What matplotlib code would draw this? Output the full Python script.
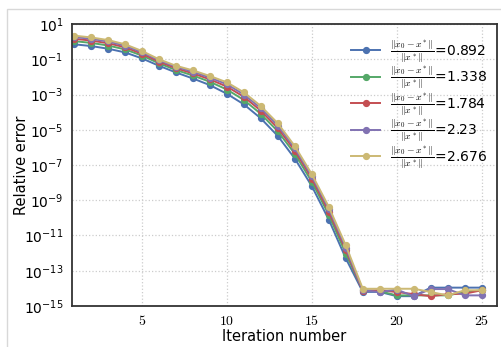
import matplotlib

matplotlib.use("Agg")
import matplotlib.pyplot as plt
from matplotlib.patches import Rectangle

# iteration numbers and relative errors
iterations = list(range(1, 26))

err_0892 = [0.708, 0.562, 0.398, 0.245, 0.112, 0.0427, 0.0178, 8.1e-3, 3.4e-3, 1.1e-3,
            2.75e-4, 4.4e-5, 4.4e-6, 2.3e-7, 6.3e-9, 7.9e-11, 5.0e-13, 6.3e-15, 6.3e-15,
            3.6e-15, 3.6e-15, 1.1e-14, 1.1e-14, 1.1e-14, 1.1e-14]
err_1338 = [1.07, 0.851, 0.603, 0.363, 0.162, 0.0589, 0.0245, 0.0120, 5.25e-3, 1.91e-3,
            4.9e-4, 7.9e-5, 8.1e-6, 4.3e-7, 1.12e-8, 1.48e-10, 9.3e-13, 7.9e-15, 6.8e-15,
            4.0e-15, 4.0e-15, 4.0e-15, 4.0e-15, 6.2e-15, 7.8e-15]
err_1784 = [1.45, 1.15, 0.813, 0.479, 0.204, 0.0724, 0.0309, 0.0158, 7.2e-3, 2.8e-3,
            7.4e-4, 1.2e-4, 1.23e-5, 6.5e-7, 1.7e-8, 2.2e-10, 1.48e-12, 7.1e-15, 7.8e-15,
            6.2e-15, 4.7e-15, 3.6e-15, 4.7e-15, 5.0e-15, 7.8e-15]
err_2230 = [1.82, 1.45, 1.02, 0.589, 0.251, 0.0871, 0.0372, 0.0195, 9.1e-3, 3.8e-3,
            1.0e-3, 1.66e-4, 1.74e-5, 8.9e-7, 2.3e-8, 3.2e-10, 2.0e-12, 7.8e-15, 6.2e-15,
            8.5e-15, 3.6e-15, 9.1e-15, 9.1e-15, 4.0e-15, 4.0e-15]
err_2676 = [2.19, 1.74, 1.23, 0.708, 0.295, 0.1, 0.0427, 0.0234, 0.0112, 4.9e-3,
            1.32e-3, 2.2e-4, 2.3e-5, 1.17e-6, 3.0e-8, 4.2e-10, 2.75e-12, 9.5e-15, 9.5e-15,
            9.5e-15, 9.5e-15, 6.2e-15, 4.0e-15, 7.8e-15, 7.8e-15]

init_ratios = ["0.892", "1.338", "1.784", "2.23", "2.676"]
series = [err_0892, err_1338, err_1784, err_2230, err_2676]
colors = ["#4C72B0", "#55A868", "#C44E52", "#8172B2", "#CCB974"]

plt.rcParams["mathtext.fontset"] = "cm"
plt.rcParams["font.family"] = ["DejaVu Sans"]

fig = plt.figure(figsize=(5.02, 3.47), dpi=100)
fig.patches.append(Rectangle((7 / 502, -0.1), 1.2, 1.1 - 9 / 347, transform=fig.transFigure,
                             fill=False, edgecolor="#d8d8d8", linewidth=1.0))
ax = fig.add_axes([0.1434, 0.1182, 0.8466, 0.8126])

for ratio, errs, color in zip(init_ratios, series, colors):
    label = r"$\frac{\|x_0-x^*\|}{\|x^*\|}$" + "=" + ratio
    ax.plot(iterations, errs, "-o", color=color, linewidth=1.4, markersize=4.2, label=label)

ax.set_yscale("log")
ax.set_ylim(1e-15, 1e1)
ax.set_xlim(0.88, 25.9)
ax.set_xticks([5, 10, 15, 20, 25])
ax.set_xticklabels([f"${v}$" for v in [5, 10, 15, 20, 25]])
ax.set_yticks([10.0 ** e for e in range(1, -16, -2)])
ax.minorticks_off()
ax.tick_params(length=0, labelsize=10, pad=6)
ax.grid(True, color="#cccccc", linestyle=":", linewidth=0.9)
for spine in ax.spines.values():
    spine.set_color("#333333")
    spine.set_linewidth(1.3)

ax.set_xlabel("Iteration number", fontsize=10.5, va="center")
ax.set_ylabel("Relative error", fontsize=10.5, va="center")
ax.xaxis.set_label_coords(0.5, -0.107)
ax.yaxis.set_label_coords(-0.118, 0.5)

ax.legend(loc="upper right", frameon=False, fontsize=10, handlelength=2.1,
          handletextpad=0.7, labelspacing=-0.02, borderaxespad=0.0,
          bbox_to_anchor=(0.99, 0.97))

fig.savefig("out.png", dpi=100)
